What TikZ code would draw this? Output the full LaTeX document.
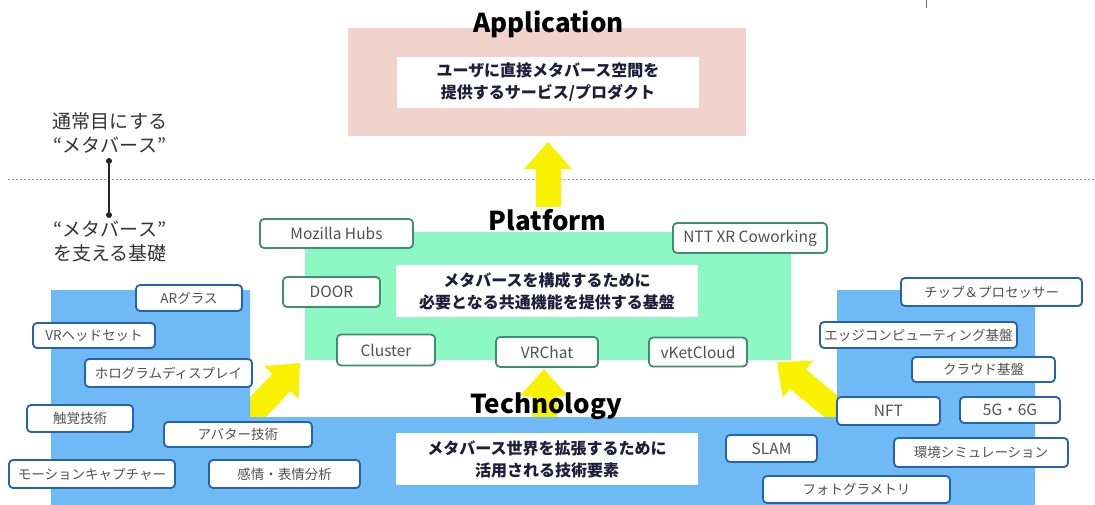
\documentclass[tikz,border=0pt]{standalone}
\usepackage{fontspec}
\setmainfont{Noto Sans CJK JP}
\usetikzlibrary{arrows.meta}
\definecolor{pinkbg}{HTML}{F2D3CB}
\definecolor{greenbg}{HTML}{8EF8C4}
\definecolor{bluebg}{HTML}{6FB9F4}
\definecolor{ylw}{HTML}{F8F200}
\definecolor{tborder}{HTML}{2563AE}
\definecolor{pborder}{HTML}{3F8E70}
\definecolor{lbl}{HTML}{505050}
\definecolor{navy}{HTML}{1E1E3C}
\definecolor{dotgray}{HTML}{A0A0A0}
\begin{document}
\begin{tikzpicture}[x=1pt,y=-1pt,
  lbox/.style={line width=1.8pt, rounded corners=4pt, fill=white, text=lbl,
    font=\fontsize{13.5}{16}\selectfont, inner sep=0pt},
  latin/.style={font=\fontsize{15.5}{18}\selectfont},
  tbox/.style={lbox, draw=tborder},
  pbox/.style={lbox, draw=pborder, latin},
  layertitle/.style={font=\fontsize{26}{28}\selectfont\bfseries, anchor=base, inner sep=0pt},
  desc/.style={fill=white, font=\fontsize{16}{22}\selectfont\bfseries, text=navy,
    align=center, inner sep=0pt, minimum width=302pt},
  side/.style={font=\fontsize{19}{24.5}\selectfont, text=black!80, align=center, inner sep=0pt},
  dotnode/.style={circle, fill=black!85, inner sep=0pt, minimum size=6pt},
  yarrow/.style={draw=ylw, line width=25pt, -{Triangle[length=27pt,width=46pt]}},
  layerbg/.style={inner sep=0pt, draw=none},
]
\useasboundingbox (0,0) rectangle (1095,505);
\fill[white] (0,0) rectangle (1095,505);

% stray tick at top
\draw[black!60, line width=0.8pt] (926,0) -- (926,8);

% dotted separator
\draw[dotgray, line width=1pt, dash pattern=on 2pt off 2pt] (8,180) -- (1095,180);

% yellow arrows (drawn below the layers)
\coordinate (a1tail) at (548,207);
\coordinate (a1tip) at (548,142);
\draw[yarrow] (a1tail) -- (a1tip);
\coordinate (a2tail) at (544,418);
\coordinate (a2tip) at (544,369);
\draw[yarrow] (a2tail) -- (a2tip);
\coordinate (a3tail) at (236,430);
\coordinate (a3tip) at (300,363);
\draw[yarrow] (a3tail) -- (a3tip);
\coordinate (a4tail) at (850,422);
\coordinate (a4tip) at (777,362);
\draw[yarrow] (a4tail) -- (a4tip);

% Technology layer background
\fill[bluebg] (51,290) -- (250,290) -- (250,417) -- (837,417) -- (837,290)
  -- (1035,290) -- (1035,505) -- (51,505) -- cycle;

% Platform layer background
\node[layerbg, fill=greenbg, minimum width=486pt, minimum height=128pt] (platrect) at (548,296) {};

% Application layer background
\node[layerbg, fill=pinkbg, minimum width=398pt, minimum height=108pt] (apprect) at (547,82) {};

% Titles
\node[layertitle] (apptitle) at (548.5,33) {Application};
\node[layertitle] (plattitle) at (547.5,230) {Platform};
\node[layertitle] (techtitle) at (546,413) {Technology};

% description boxes
\node[desc, minimum height=51pt] (appdesc) at (548,82.5)
  {ユーザに直接メタバース空間を\\提供するサービス/プロダクト};
\node[desc, minimum height=52pt] (platdesc) at (547,291)
  {メタバースを構成するために\\必要となる共通機能を提供する基盤};
\node[desc, minimum height=52pt] (techdesc) at (547,459)
  {メタバース世界を拡張するために\\活用される技術要素};

% side labels
\node[side] (sidetop) at (110,133) {通常目にする\\“メタバース”};
\node[side] (sidebot) at (110,241.5) {“メタバース”\\を支える基礎};
\node[dotnode] (dtop) at (109,161) {};
\node[dotnode] (dbot) at (109,215) {};
\draw[black!85, line width=1.8pt] (dtop) -- (dbot);

% Platform boxes
\node[pbox, minimum width=153pt, minimum height=29pt] (mozilla) at (336.5,233.5) {Mozilla Hubs};
\node[pbox, minimum width=154pt, minimum height=30pt] (ntt) at (750,238) {NTT XR Coworking};
\node[pbox, minimum width=97pt, minimum height=30pt] (door) at (331.5,292) {DOOR};
\node[pbox, minimum width=98pt, minimum height=31pt] (cluster) at (386,350) {Cluster};
\node[pbox, minimum width=102pt, minimum height=30pt] (vrchat) at (547,352) {VRChat};
\node[pbox, minimum width=98pt, minimum height=29pt] (vket) at (698,352) {vKetCloud};

% Technology boxes
\node[tbox, minimum width=106pt, minimum height=26pt] (ar) at (189,298) {ARグラス};
\node[tbox, minimum width=122pt, minimum height=25pt] (vr) at (94,335.5) {VRヘッドセット};
\node[tbox, minimum width=167pt, minimum height=28pt] (holo) at (168.5,373) {ホログラムディスプレイ};
\node[tbox, minimum width=106pt, minimum height=27pt] (haptic) at (80,418.5) {触覚技術};
\node[tbox, minimum width=148pt, minimum height=25pt] (avatar) at (238,434.5) {アバター技術};
\node[tbox, minimum width=166pt, minimum height=28pt] (mocap) at (92,474) {モーションキャプチャー};
\node[tbox, minimum width=151pt, minimum height=28pt] (emotion) at (284.5,474) {感情・表情分析};
\node[tbox, latin, minimum width=91pt, minimum height=27pt] (slam) at (771.5,448.5) {SLAM};
\node[tbox, minimum width=187pt, minimum height=27pt] (photo) at (856.5,489.5) {フォトグラメトリ};
\node[tbox, minimum width=181pt, minimum height=28pt] (chip) at (991.5,292) {チップ＆プロセッサー};
\node[tbox, minimum width=197pt, minimum height=26pt] (edge) at (918.5,335) {エッジコンピューティング基盤};
\node[tbox, minimum width=143pt, minimum height=25pt] (cloud) at (983.5,369.5) {クラウド基盤};
\node[tbox, latin, minimum width=103pt, minimum height=28pt] (nft) at (888.5,411) {NFT};
\node[tbox, latin, minimum width=100pt, minimum height=26pt] (fiveg) at (1010,410) {5G・6G};
\node[tbox, minimum width=174pt, minimum height=29pt] (envsim) at (981,452.5) {環境シミュレーション};
\end{tikzpicture}
\end{document}
